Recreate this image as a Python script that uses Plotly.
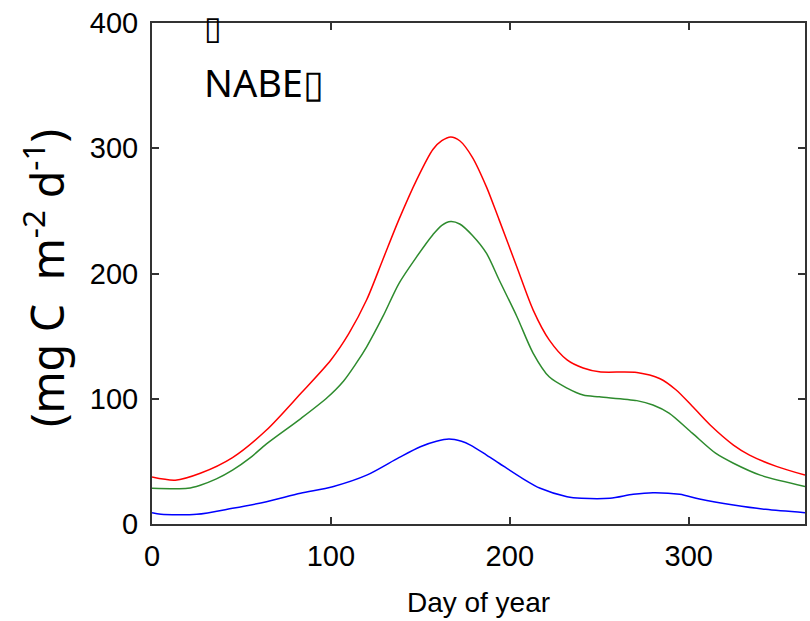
import plotly.graph_objects as go

# ---- data ----
red_days = [0, 13, 27, 45, 64, 83, 100, 110, 120, 129, 138, 148, 157, 162, 167, 172, 179, 187,
            194, 204, 213, 222, 232, 241, 250, 271, 284, 293, 302, 312, 325, 334, 349, 365]
red_vals = [37.5, 35, 40.5, 53, 75, 104, 131, 152, 179, 211, 243, 275, 299, 306, 309, 306, 293, 269,
            243, 205, 171, 147, 131, 124.5, 121.5, 121, 116, 107, 94, 79, 63, 55, 46, 39]

green_days = [0, 20, 27, 36, 45, 55, 64, 83, 98, 107, 114, 120, 129, 138, 148, 157, 162, 167, 172,
              179, 187, 194, 204, 213, 222, 232, 241, 250, 271, 280, 289, 302, 315, 325, 340, 365]
green_vals = [28.5, 28.5, 31, 36, 43, 53, 64, 84, 101, 114, 128, 141.5, 165.5, 192, 213.5,
              231, 238.5, 241.5, 239.5, 230.5, 216, 195, 165.5, 136.5, 117.5, 108.5, 103, 101.5, 98.5,
              95, 88.5, 72.5, 56.5, 48.5, 39, 30]

blue_days = [0, 5, 25, 45, 64, 83, 101, 120, 138, 150, 159, 166, 173, 178, 187, 194, 207, 217, 232,
             240, 256, 269, 280, 295, 306, 325, 343, 365]
blue_vals = [9, 7.7, 7.7, 12.5, 17.8, 24.5, 29.8, 39, 53, 61.7, 66, 67.8, 66, 63, 55, 48.5, 36.5,
             28.5, 21.8, 20.5, 20.5, 23.7, 25, 23.7, 20, 15.2, 11.7, 9]

x_ticks = [0, 100, 200, 300]
y_ticks = [0, 100, 200, 300, 400]
x_title = "Day of year"
y_title = "(mg C&nbsp; m<sup>-2</sup> d<sup>-1</sup>)"
label_top = "\u25af"
label_main = "NABE\u25af"

fig = go.Figure()
for xs, ys, col in [(red_days, red_vals, "#ff0000"),
                    (green_days, green_vals, "#2e8b2e"),
                    (blue_days, blue_vals, "#0000ff")]:
    fig.add_trace(go.Scatter(x=xs, y=ys, mode="lines",
                             line=dict(color=col, width=1.5, shape="spline", smoothing=0.8),
                             showlegend=False, hoverinfo="skip"))

axis_common = dict(showline=True, linecolor="#333333", linewidth=2, mirror="ticks",
                   ticks="inside", ticklen=7, tickwidth=1.5, tickcolor="#333333",
                   showgrid=False, zeroline=False,
                   tickfont=dict(family="Liberation Sans", size=29, color="black"))

fig.update_layout(
    width=810, height=621,
    margin=dict(l=152, r=3, t=23, b=97),
    paper_bgcolor="white", plot_bgcolor="white",
    xaxis=dict(range=[0, 365], tickvals=x_ticks, ticklabelstandoff=5,
               title=dict(text=x_title, font=dict(family="Liberation Sans", size=28, color="black"),
                          standoff=22),
               **axis_common),
    yaxis=dict(range=[0, 400], tickvals=y_ticks, ticklabelstandoff=6, **axis_common),
    annotations=[
        dict(text=y_title, xref="paper", yref="paper", x=-0.166, y=0.49,
             xanchor="center", yanchor="middle", textangle=-90, showarrow=False,
             font=dict(family="Noto Sans", size=45, color="black")),
        dict(text=label_main, xref="paper", yref="paper", x=0.077, y=0.882,
             xanchor="left", yanchor="middle", showarrow=False,
             font=dict(family="Noto Sans", size=38, color="black")),
        dict(text=label_top, xref="paper", yref="paper", x=0.077, y=0.99,
             xanchor="left", yanchor="middle", showarrow=False,
             font=dict(family="DejaVu Sans", size=32, color="black")),
    ],
)

fig.write_html("out.html")
